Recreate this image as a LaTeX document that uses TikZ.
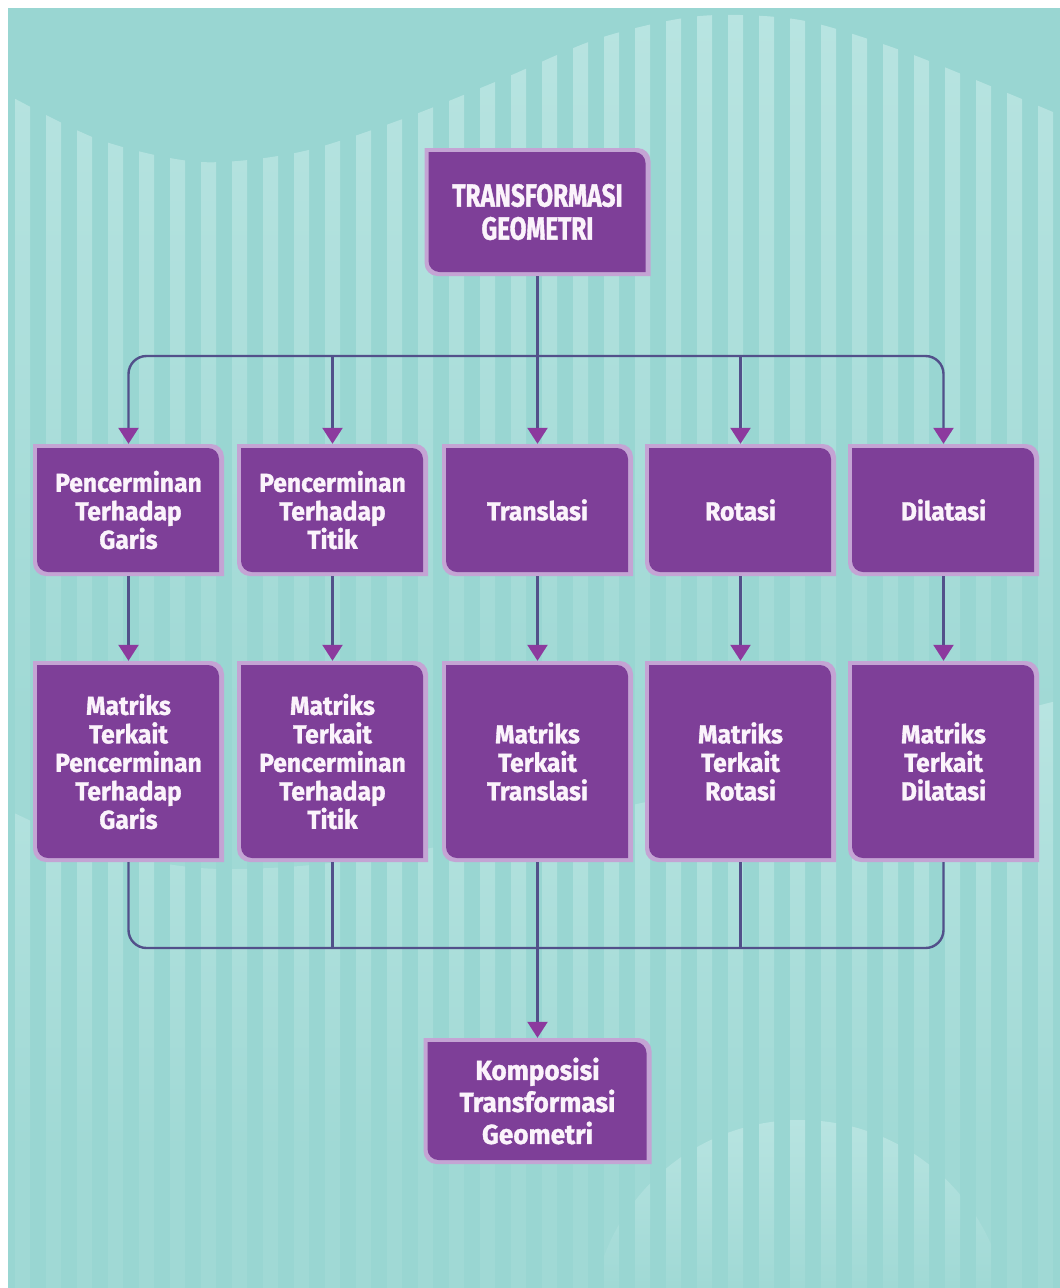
\documentclass[tikz,border=0pt]{standalone}
\usepackage{fontspec}
\newfontfamily\boxfont{Fira Sans}[FakeStretch=0.95,FakeBold=1.2]
\newfontfamily\topfont{Fira Sans}[FakeStretch=0.76,FakeBold=1.2]
\usetikzlibrary{arrows.meta,calc}
\definecolor{bg}{HTML}{99D6D2}
\definecolor{stripeA}{HTML}{B8E4E1}
\definecolor{stripeF}{HTML}{A0D9D5}
\definecolor{boxpurple}{HTML}{7E3F98}
\definecolor{boxlav}{HTML}{C4A4D4}
\definecolor{linec}{HTML}{52508A}
\definecolor{tipc}{HTML}{8C3A9E}
\definecolor{txt}{HTML}{FBF3FB}
\tikzset{
  boxtext/.style={text=txt, align=center, inner sep=0pt,
    font=\boxfont\bfseries\fontsize{26}{28.5}\selectfont},
  conn/.style={draw=linec, line width=2.4pt},
  arr/.style={conn, -{Triangle[width=20pt,length=16pt,color=tipc]}},
}
% #1 extra node options, #2 name, #3 cx, #4 cy (pixels downward), #5 width, #6 height, #7 text
\newcommand\purplebox[7][]{%
  \fill[boxlav] ({#3-#5/2-4},{-(#4-#6/2-4)}) -- ({#3+#5/2+5-13},{-(#4-#6/2-4)})
     arc[start angle=90,end angle=0,radius=13] -- ({#3+#5/2+5},{-(#4+#6/2+4)})
     -- ({#3-#5/2-4+13},{-(#4+#6/2+4)}) arc[start angle=270,end angle=180,radius=13] -- cycle;
  \fill[boxpurple] ({#3-#5/2},{-(#4-#6/2)}) -- ({#3+#5/2-11},{-(#4-#6/2)})
     arc[start angle=90,end angle=0,radius=11] -- ({#3+#5/2},{-(#4+#6/2)})
     -- ({#3-#5/2+11},{-(#4+#6/2)}) arc[start angle=270,end angle=180,radius=11] -- cycle;
  \node[boxtext, minimum width=#5+9, minimum height=#6+8, #1] (#2) at ({#3+0.5},{-#4}) {#7};
}
\begin{document}
\begin{tikzpicture}[x=1pt,y=1pt]
\useasboundingbox (0,0) rectangle (1060,-1288);
\fill[white] (0,0) rectangle (1060,-1288);
\fill[bg] (8,-8) rectangle (1060,-1288);
% top wave stripes, and faint stripes below the wave
\begin{scope}
  \clip plot[smooth] coordinates {(8,-95) (100,-140) (200,-162) (300,-152) (400,-120) (500,-80) (600,-38) (700,-16) (800,-20) (900,-50) (1000,-90) (1060,-115)}
     -- (1060,-1288) -- (8,-1288) -- cycle;
  \foreach \i in {0,...,34} {
    \fill[stripeF] ({15+31*\i},-8) rectangle ({30+31*\i},-1288);
    \shade[top color=stripeA, bottom color=stripeF] ({15+31*\i},-8) rectangle ({30+31*\i},-720);
  }
\end{scope}
% lower wave stripes
\begin{scope}
  \clip plot[smooth] coordinates {(8,-810) (100,-850) (200,-868) (300,-866) (420,-850) (560,-820) (700,-790) (850,-750) (1000,-715) (1060,-700)}
     -- (1060,-1288) -- (8,-1288) -- cycle;
  \foreach \i in {0,...,34} {
    \shade[top color=stripeA, bottom color=stripeF] ({15+31*\i},-700) rectangle ({30+31*\i},-1150);
  }
\end{scope}
% bottom dome stripes
\begin{scope}
  \clip (800,-1329) circle[radius=209];
  \foreach \i in {17,...,33} {
    \shade[top color=stripeA, bottom color=stripeF] ({15+31*\i},-1118) rectangle ({30+31*\i},-1288);
  }
\end{scope}

% boxes
\purplebox[font=\topfont\bfseries\fontsize{32}{33}\selectfont]{top}{537}{212}{217}{120}{TRANSFORMASI\\GEOMETRI}

\purplebox{r11}{128}{510}{182}{124}{Pencerminan\\Terhadap\\Garis}
\purplebox{r12}{332}{510}{182}{124}{Pencerminan\\Terhadap\\Titik}
\purplebox{r13}{537}{510}{182}{124}{Translasi}
\purplebox{r14}{740}{510}{182}{124}{Rotasi}
\purplebox{r15}{943}{510}{182}{124}{Dilatasi}

\purplebox{r21}{128}{761.5}{182}{193}{Matriks\\Terkait\\Pencerminan\\Terhadap\\Garis}
\purplebox{r22}{332}{761.5}{182}{193}{Matriks\\Terkait\\Pencerminan\\Terhadap\\Titik}
\purplebox{r23}{537}{761.5}{182}{193}{Matriks\\Terkait\\Translasi}
\purplebox{r24}{740}{761.5}{182}{193}{Matriks\\Terkait\\Rotasi}
\purplebox{r25}{943}{761.5}{182}{193}{Matriks\\Terkait\\Dilatasi}

\purplebox[font=\boxfont\bfseries\fontsize{27.5}{32}\selectfont]{bot}{537}{1101}{219}{118}{Komposisi\\Transformasi\\Geometri}

% connectors top
\coordinate (hA) at (537.5,-356);
\draw[arr, rounded corners=18] (hA) -| (r11.north);
\draw[arr, rounded corners=18] (hA) -| (r15.north);
\draw[arr] (r12.north |- hA) -- (r12.north);
\draw[arr] (r14.north |- hA) -- (r14.north);
\draw[arr] (top.south) -- (r13.north);
% row 1 to row 2
\foreach \k in {1,...,5} {
  \draw[arr] (r1\k.south) -- (r2\k.north);
}
% bottom collector
\coordinate (hB) at (537.5,-948);
\draw[conn, rounded corners=18] (r21.south) |- (hB) -| (r25.south);
\draw[conn] (r22.south) -- (r22.south |- hB);
\draw[conn] (r24.south) -- (r24.south |- hB);
\draw[arr] (r23.south) -- (bot.north);
\end{tikzpicture}
\end{document}
